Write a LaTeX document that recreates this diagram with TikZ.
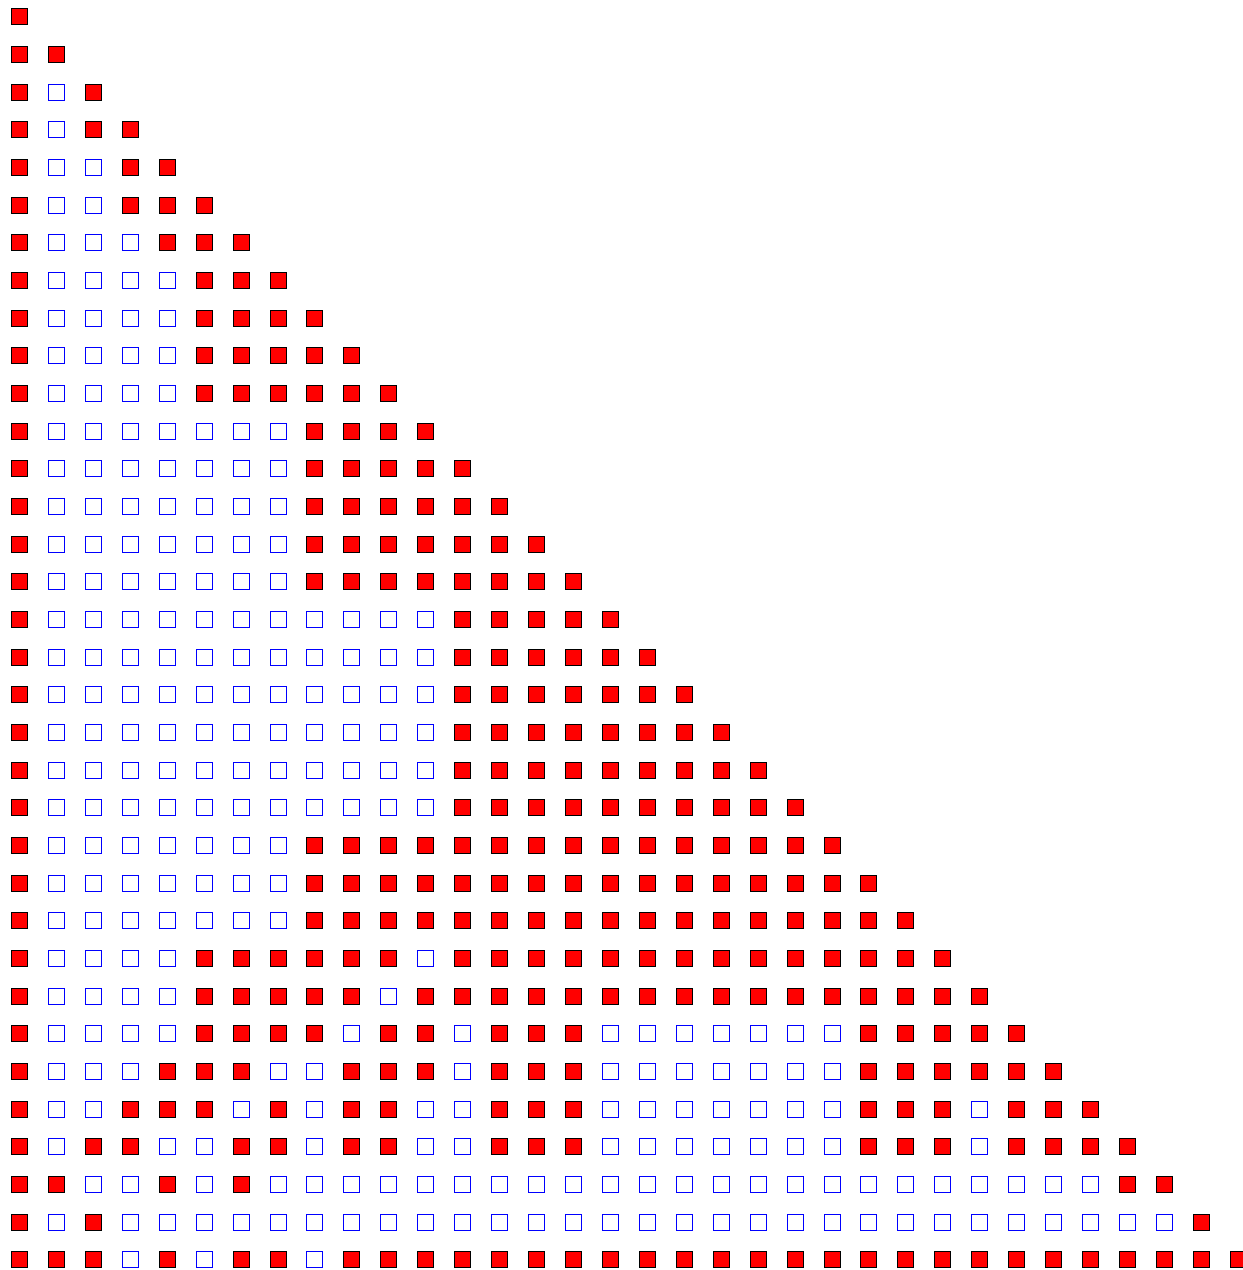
\documentclass[tikz,border=0pt]{standalone}
\tikzset{
  sqcell/.style={rectangle, minimum size=16pt, inner sep=0pt, outer sep=0pt, line width=0.9pt},
  cell1/.style={sqcell, draw=black, fill=red},
  cell0/.style={sqcell, draw=blue, fill=none},
}
\newcount\cellk
\def\placecell#1{\edef\ck{\the\cellk}%
  \node[cell#1] (s-\currow-\ck) at ({19.5+36.93*\ck},{1253.3-37.67*\currow}) {};}
\def\parsecells#1{\ifx#1\relax\else\placecell{#1}\advance\cellk by 1\relax\expandafter\parsecells\fi}
\newcommand\drawrow[2]{\cellk=0 \def\currow{#1}\parsecells#2\relax}
\begin{document}
\begin{tikzpicture}[x=1pt,y=1pt]
\useasboundingbox (0,0) rectangle (1243,1270);
\drawrow{0}{1}
\drawrow{1}{11}
\drawrow{2}{101}
\drawrow{3}{1011}
\drawrow{4}{10011}
\drawrow{5}{100111}
\drawrow{6}{1000111}
\drawrow{7}{1 0000 111}
\drawrow{8}{1 0000 1111}
\drawrow{9}{1 0000 11111}
\drawrow{10}{1 0000 111111}
\drawrow{11}{1 0000000 1111}
\drawrow{12}{1 0000000 11111}
\drawrow{13}{1 0000000 111111}
\drawrow{14}{1 0000000 1111111}
\drawrow{15}{1 0000000 11111111}
\drawrow{16}{1 00000 00000 0 11111}
\drawrow{17}{1 00000 00000 0 11111 1}
\drawrow{18}{1 00000 00000 0 11111 11}
\drawrow{19}{1 00000 00000 0 11111 111}
\drawrow{20}{1 00000 00000 0 11111 1111}
\drawrow{21}{1 00000 00000 0 11111 11111}
\drawrow{22}{1 00000 00 11111 11111 11111}
\drawrow{23}{1 00000 00 11111 11111 11111 1}
\drawrow{24}{1 00000 00 11111 11111 11111 11}
\drawrow{25}{1 0000 11111 1 0 11111 11111 1111}
\drawrow{26}{1 0000 11111 0 11111 11111 11111 1}
\drawrow{27}{1 0000 1111 0 11 0 111 00000 00 11111}
\drawrow{28}{1 000 111 00 111 0 111 00000 00 11111 1}
\drawrow{29}{1 00 111 0 1 0 11 00 111 00000 00 111 0 111}
\drawrow{30}{1 0 11 00 11 0 11 00 111 00000 00 111 0 1111}
\drawrow{31}{11 00 1 0 1 00000 00000 00000 00000 000 11}
\drawrow{32}{101 00000 00000 00000 00000 00000 0000 1}
\drawrow{33}{111 0 1 0 11 0 11111 11111 11111 11111 11111}
\end{tikzpicture}
\end{document}
